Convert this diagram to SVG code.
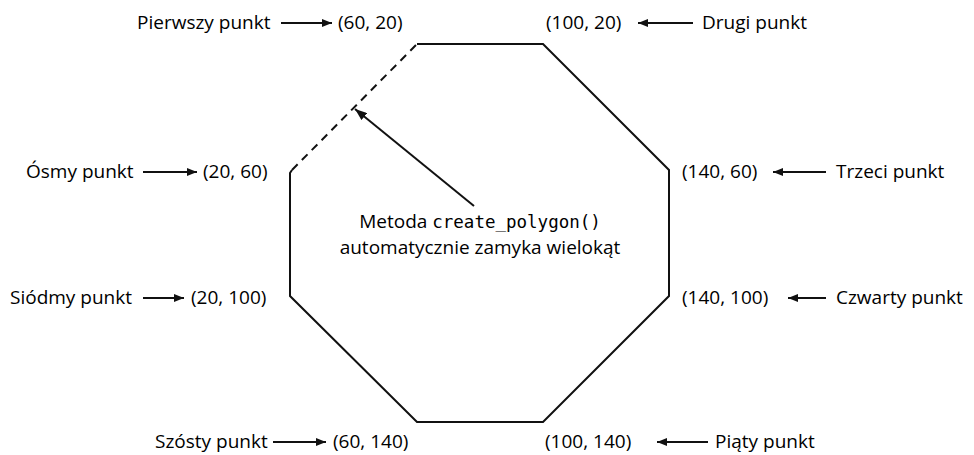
<svg xmlns="http://www.w3.org/2000/svg" width="974" height="455" viewBox="0 0 974 455">
<style>
text{font-family:"Open Sans","Noto Sans",sans-serif;font-size:19px;fill:#000}
.mono{font-family:"DejaVu Sans Mono","Liberation Mono",monospace;font-size:17.5px}
.ln{stroke:#111;stroke-width:2;fill:none}
.ar{stroke:#111;stroke-width:1.8;fill:none;marker-end:url(#ah)}
</style>
<defs>
<marker id="ah" viewBox="0 0 10 8" refX="10" refY="4" markerWidth="10" markerHeight="8" markerUnits="userSpaceOnUse" orient="auto">
<path d="M0,0 L10,4 L0,8 Z" fill="#111"/>
</marker>
<marker id="ah2" viewBox="0 0 12 9" refX="12" refY="4.5" markerWidth="12" markerHeight="9" markerUnits="userSpaceOnUse" orient="auto">
<path d="M0,0 L12,4.5 L0,9 Z" fill="#111"/>
</marker>
</defs>
<g id="polygon">
<polyline class="ln" points="417,44 543,44 669,170 669,296 543,422 417,422 290,296 290,173 292,170"/>
<line class="ln" x1="292" y1="170" x2="417" y2="44" stroke-dasharray="8,6"/>
</g>
<g id="connectors">
<line class="ar" x1="281" y1="23" x2="332" y2="23"/>
<line class="ar" x1="693" y1="23" x2="638" y2="23"/>
<line class="ar" x1="143" y1="172" x2="197" y2="172"/>
<line class="ar" x1="826" y1="172" x2="773" y2="172"/>
<line class="ar" x1="143" y1="298" x2="184" y2="298"/>
<line class="ar" x1="826" y1="298" x2="788" y2="298"/>
<line class="ar" x1="273" y1="442" x2="326" y2="442"/>
<line class="ar" x1="708" y1="442" x2="657" y2="442"/>
<line stroke="#111" stroke-width="2" x1="474" y1="206" x2="355" y2="109" marker-end="url(#ah2)"/>
</g>
<g id="p1"><text x="137" y="29">Pierwszy punkt</text><text x="338" y="29">(60, 20)</text></g>
<g id="p2"><text x="546" y="29">(100, 20)</text><text x="702" y="29">Drugi punkt</text></g>
<g id="p3"><text x="682" y="178">(140, 60)</text><text x="836" y="178">Trzeci punkt</text></g>
<g id="p4"><text x="682" y="304">(140, 100)</text><text x="836" y="304">Czwarty punkt</text></g>
<g id="p5"><text x="545" y="448">(100, 140)</text><text x="715" y="448">Piąty punkt</text></g>
<g id="p6"><text x="155" y="448">Szósty punkt</text><text x="333" y="448">(60, 140)</text></g>
<g id="p7"><text x="10" y="304">Siódmy punkt</text><text x="191" y="304">(20, 100)</text></g>
<g id="p8"><text x="26" y="178">Ósmy punkt</text><text x="203" y="178">(20, 60)</text></g>
<g id="note">
<text x="480" y="228" text-anchor="middle">Metoda <tspan class="mono">create_polygon()</tspan></text>
<text x="480" y="254" text-anchor="middle">automatycznie zamyka wielokąt</text>
</g>
</svg>
